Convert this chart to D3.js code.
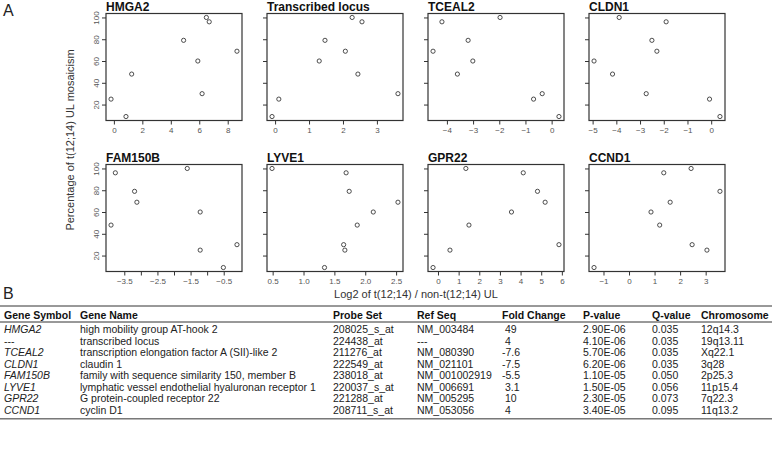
<!DOCTYPE html>
<html>
<head>
<meta charset="utf-8">
<script src="https://cdn.jsdelivr.net/npm/d3@7"></script>
<style>
  body { margin: 0; background: #fff; }
  text { font-family: "Liberation Sans", Arial, sans-serif; }
</style>
</head>
<body>
<div id="chart"></div>
<script>
// panel A data: % t(12;14) mosaicism per UL and log2 ratio per gene (same sample order)
var genes = ["HMGA2", "Transcribed locus", "TCEAL2", "CLDN1", "FAM150B", "LYVE1", "GPR22", "CCND1"];
var mosaicism = [100, 96, 79, 69, 60, 48, 30, 25, 9];
var hmga2    = [6.5, 6.7, 4.9, 8.65, 5.9, 1.25, 6.2, -0.2, 0.85];
var locus    = [2.27, 2.56, 1.47, 2.07, 1.3, 2.44, 3.62, 0.11, -0.09];
var tceal2   = [-1.97, -4.19, -3.19, -4.53, -3.01, -3.6, -0.36, -0.69, 0.28];
var cldn1    = [-3.88, -1.9, -2.5, -2.29, -4.94, -4.16, -2.74, -0.07, 0.37];
var fam150b  = [-1.6, -3.77, -3.19, -3.12, -1.21, -3.9, -0.1, -1.21, -0.51];
var lyve1    = [0.49, 1.69, 1.74, 2.53, 2.13, 1.87, 1.65, 1.67, 1.34];
var gpr22    = [1.35, 4.13, 4.82, 5.19, 3.56, 1.5, 5.86, 0.58, -0.24];
var ccnd1    = [2.43, 1.36, 3.56, 1.61, 0.86, 1.2, 2.47, 3.05, -1.37];
var logRatios = [hmga2, locus, tceal2, cldn1, fam150b, lyve1, gpr22, ccnd1];

var xTicks = [
  [0, 2, 4, 6, 8], [0, 1, 2, 3], [-4, -3, -2, -1, 0], [-5, -4, -3, -2, -1, 0],
  [-3.5, -3, -2.5, -2, -1.5, -1, -0.5], [0.5, 1, 1.5, 2, 2.5], [0, 1, 2, 3, 4, 5, 6], [-1, 0, 1, 2, 3]
];
var xTickLabels = [
  ["0", "2", "4", "6", "8"], ["0", "1", "2", "3"], ["\u22124", "\u22123", "\u22122", "\u22121", "0"],
  ["\u22125", "\u22124", "\u22123", "\u22122", "\u22121", "0"],
  ["\u22123.5", "", "\u22122.5", "", "\u22121.5", "", "\u22120.5"],
  ["0.5", "1.0", "1.5", "2.0", "2.5"], ["0", "1", "2", "3", "4", "5", "6"], ["\u22121", "0", "1", "2", "3"]
];
var yTicks = [20, 40, 60, 80, 100];

// panel B table columns
var tableHeaders = ["Gene Symbol", "Gene Name", "Probe Set", "Ref Seq", "Fold Change", "P-value", "Q-value", "Chromosome"];
var geneSymbols = ["HMGA2", "---", "TCEAL2", "CLDN1", "FAM150B", "LYVE1", "GPR22", "CCND1"];
var geneNames = ["high mobility group AT-hook 2", "transcribed locus", "transcription elongation factor A (SII)-like 2",
  "claudin 1", "family with sequence similarity 150, member B", "lymphatic vessel endothelial hyaluronan receptor 1",
  "G protein-coupled receptor 22", "cyclin D1"];
var probeSets = ["208025_s_at", "224438_at", "211276_at", "222549_at", "238018_at", "220037_s_at", "221288_at", "208711_s_at"];
var refSeqs = ["NM_003484", "---", "NM_080390", "NM_021101", "NM_001002919", "NM_006691", "NM_005295", "NM_053056"];
var foldChanges = ["49", "4", "-7.6", "-7.5", "-5.5", "3.1", "10", "4"];
var pValues = ["2.90E-06", "4.10E-06", "5.70E-06", "6.20E-06", "1.10E-05", "1.50E-05", "2.30E-05", "3.40E-05"];
var qValues = ["0.035", "0.035", "0.035", "0.035", "0.050", "0.056", "0.073", "0.095"];
var chromosomes = ["12q14.3", "19q13.11", "Xq22.1", "3q28", "2p25.3", "11p15.4", "7q22.3", "11q13.2"];

var W = 772, H = 449;
var svg = d3.select("#chart").append("svg")
  .attr("width", W)
  .attr("height", H);

var colLeft = [106, 267, 428, 589],
    rowTop = [13.5, 164.5],
    pw = 136, ph = 107;

// R style range: data extent padded by 4%
function padded(vals) {
  var e = d3.extent(vals), r = e[1] - e[0];
  return [e[0] - 0.04 * r, e[1] + 0.04 * r];
}

genes.forEach(function(gene, i) {
  var col = i % 4, row = Math.floor(i / 4);
  var x0 = colLeft[col], y0 = rowTop[row];
  var xv = logRatios[i];

  var x = d3.scaleLinear().domain(padded(xv)).range([x0, x0 + pw]);
  var y = d3.scaleLinear().domain(padded(mosaicism)).range([y0 + ph, y0]);

  var g = svg.append("g").attr("class", "panel");

  g.append("text")
    .attr("x", x0)
    .attr("y", y0 - 3)
    .attr("font-size", 12)
    .attr("font-weight", "bold")
    .attr("fill", "#111")
    .text(gene);

  var labels = xTickLabels[i];
  var xa = g.append("g")
    .attr("transform", "translate(0," + (y0 + ph) + ")")
    .call(d3.axisBottom(x).tickValues(xTicks[i]).tickSize(4).tickPadding(3)
      .tickFormat(function(d, k) { return labels[k]; }));
  xa.select(".domain").remove();
  xa.selectAll("line").attr("stroke", "#333");
  xa.selectAll("text").attr("font-size", 8).attr("fill", "#555").attr("font-family", null);

  var ya = g.append("g")
    .attr("transform", "translate(" + x0 + ",0)")
    .call(d3.axisLeft(y).tickValues(yTicks).tickSize(4)
      .tickFormat(col === 0 ? d3.format("d") : function() { return ""; }));
  ya.select(".domain").remove();
  ya.selectAll("line").attr("stroke", "#333");
  // labels parallel to the axis, as R draws them
  ya.selectAll(".tick text")
    .attr("font-size", 8)
    .attr("fill", "#555")
    .attr("font-family", null)
    .attr("text-anchor", "middle")
    .attr("x", 0)
    .attr("y", 0)
    .attr("dy", null)
    .attr("transform", "rotate(-90) translate(0,-7)");

  g.append("rect")
    .attr("x", x0)
    .attr("y", y0)
    .attr("width", pw)
    .attr("height", ph)
    .attr("fill", "none")
    .attr("stroke", "#333")
    .attr("stroke-width", 1.2);

  g.selectAll("circle")
    .data(xv)
    .enter()
    .append("circle")
    .attr("cx", function(d) { return x(d); })
    .attr("cy", function(d, k) { return y(mosaicism[k]); })
    .attr("r", 2.1)
    .attr("fill", "none")
    .attr("stroke", "#222")
    .attr("stroke-width", 0.8);
});

svg.append("text")
  .attr("x", 3).attr("y", 16)
  .attr("font-size", 16)
  .attr("fill", "#222")
  .text("A");

svg.append("text")
  .attr("transform", "translate(74,140) rotate(-90)")
  .attr("text-anchor", "middle")
  .attr("font-size", 11)
  .attr("fill", "#333")
  .text("Percentage of t(12;14) UL mosaicism");

svg.append("text")
  .attr("x", 416).attr("y", 298)
  .attr("text-anchor", "middle")
  .attr("font-size", 11)
  .attr("fill", "#333")
  .text("Log2 of t(12;14) / non-t(12;14) UL");

// panel B table
svg.append("text")
  .attr("x", 3).attr("y", 299)
  .attr("font-size", 16)
  .attr("fill", "#222")
  .text("B");

var colX = [4, 80, 333, 417, 502, 583, 652, 701];
var tableTop = 306, headRule = 322, rowH = 11.55, firstBase = 333;

[tableTop, headRule, firstBase + 7 * rowH + 5].forEach(function(yy) {
  svg.append("line")
    .attr("x1", 0).attr("x2", W)
    .attr("y1", yy).attr("y2", yy)
    .attr("stroke", "#333")
    .attr("stroke-width", 1);
});

svg.append("g").selectAll("text")
  .data(tableHeaders)
  .enter()
  .append("text")
  .attr("x", function(d, k) { return colX[k]; })
  .attr("y", headRule - 3.5)
  .attr("font-size", 10.5)
  .attr("font-weight", "bold")
  .attr("fill", "#111")
  .text(function(d) { return d; });

var columns = [geneSymbols, geneNames, probeSets, refSeqs, foldChanges, pValues, qValues, chromosomes];
columns.forEach(function(colVals, c) {
  svg.append("g").selectAll("text")
    .data(colVals)
    .enter()
    .append("text")
    .attr("x", function(d) { return colX[c] + (c === 4 && d.charAt(0) !== "-" ? 3 : 0); })
    .attr("y", function(d, r) { return firstBase + r * rowH; })
    .attr("font-size", 10.5)
    .attr("fill", "#222")
    .style("font-style", function(d) { return c === 0 && d !== "---" ? "italic" : "normal"; })
    .text(function(d) { return d; });
});
</script>
</body>
</html>
